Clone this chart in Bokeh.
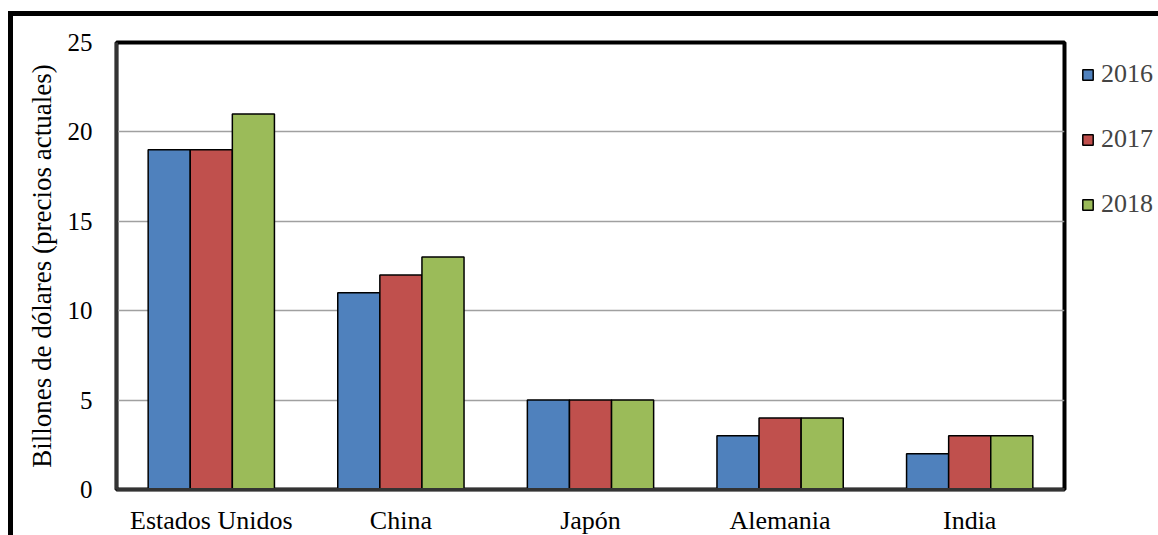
from bokeh.plotting import figure
from bokeh.models import FactorRange, FixedTicker, Legend, LegendItem
from bokeh.transform import dodge
from bokeh.embed import file_html
from bokeh.resources import INLINE

countries = ["Estados Unidos", "China", "Japón", "Alemania", "India"]
years = ["2016", "2017", "2018"]
v2016 = [19, 11, 5, 3, 2]
v2017 = [19, 12, 5, 4, 3]
v2018 = [21, 13, 5, 4, 3]
colors = ["#4F81BD", "#C0504D", "#9BBB59"]
y_ticks = [0, 5, 10, 15, 20, 25]

FONT = "Liberation Serif"

p = figure(x_range=FactorRange(*countries, range_padding=0), y_range=(0, 25),
           frame_width=948, frame_height=447,
           output_backend="svg", toolbar_location=None,
           min_border_left=103, min_border_top=26, min_border_bottom=46, min_border_right=0)
p.margin = (11, 0, 0, 8)
p.styles = {"border-left": "5px solid black", "border-top": "5px solid black"}

data = dict(x=countries, v2016=v2016, v2017=v2017, v2018=v2018)
w = 0.222
renderers = []
for i, (yr, col) in enumerate(zip(["v2016", "v2017", "v2018"], colors)):
    r = p.vbar(x=dodge("x", (i - 1) * w, range=p.x_range), top=yr, width=w, source=data,
               fill_color=col, line_color="black", line_width=1.5)
    renderers.append(r)

p.outline_line_color = "black"
p.outline_line_width = 4

p.xgrid.grid_line_color = None
p.ygrid.grid_line_color = "#a0a0a0"
p.ygrid.grid_line_width = 1.5
p.yaxis.ticker = FixedTicker(ticks=y_ticks)

for ax in (p.xaxis[0], p.yaxis[0]):
    ax.axis_line_color = "#333333"
    ax.axis_line_width = 3
    ax.major_tick_line_color = None
    ax.minor_tick_line_color = None
    ax.major_label_text_font = FONT
    ax.major_label_text_color = "black"

p.xaxis.major_label_text_font_size = "26px"
p.yaxis.major_label_text_font_size = "25px"
p.yaxis.major_label_standoff = 18
p.xaxis.major_label_standoff = 10
p.yaxis.axis_label = "Billones de dólares (precios actuales)"
p.yaxis.axis_label_text_font = FONT
p.yaxis.axis_label_text_font_size = "27px"
p.yaxis.axis_label_text_font_style = "normal"
p.yaxis.axis_label_text_color = "black"
p.yaxis.axis_label_standoff = 8

legend = Legend(items=[LegendItem(label=y, renderers=[r]) for y, r in zip(years, renderers)],
                location="top_left")
legend.label_text_font = FONT
legend.label_text_font_size = "26px"
legend.glyph_width = 13
legend.glyph_height = 13
legend.label_standoff = 7
legend.spacing = 35
legend.padding = 0
legend.margin = 17
legend.border_line_color = None
legend.background_fill_alpha = 0
p.add_layout(legend, "right")

open("out.html", "w").write(file_html(p, INLINE))
